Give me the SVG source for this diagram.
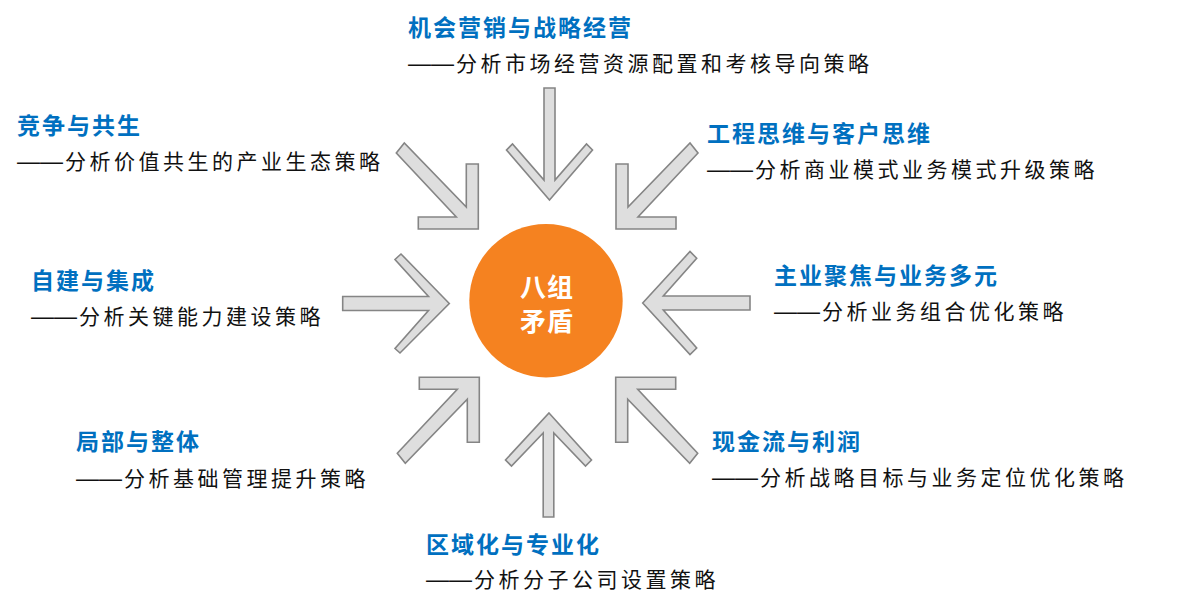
<svg xmlns="http://www.w3.org/2000/svg" width="1189" height="610" viewBox="0 0 1189 610">
  <style>
    .arrow { fill: #DEDEDE; stroke: #858585; stroke-width: 1.6; stroke-linejoin: miter; }
    .title { font-family: "Noto Sans CJK SC", "Noto Sans", sans-serif; font-size: 23px; font-weight: bold; fill: #0070C0; letter-spacing: 2px; }
    .sub { font-family: "Noto Sans CJK SC", "Noto Sans", sans-serif; font-size: 21px; fill: #111111; letter-spacing: 3.5px; }
    .dash { font-family: "Liberation Sans", "Noto Sans CJK SC", sans-serif; font-size: 23px; letter-spacing: 0; }
    .center { font-family: "Noto Sans CJK SC", "Noto Sans", sans-serif; font-size: 26px; font-weight: bold; fill: #FFFFFF; text-anchor: middle; letter-spacing: 1px; }
  </style>
  <rect width="1189" height="610" fill="#FFFFFF"/>

  <g id="connectors">
    <!-- top, pointing down -->
    <polygon class="arrow" points="549.5,200 592.5,150 586.5,144 555,180 555,88 544,88 544,180 512.5,144 506.5,150"/>
    <!-- bottom, pointing up -->
    <polygon class="arrow" points="549,413 591.5,460 585.5,466 553.8,433 553.8,517 543.2,517 543.2,433 511.5,466 505.5,460"/>
    <!-- left, pointing right -->
    <polygon class="arrow" points="449.3,303.5 401,254 395,259.5 428.5,296.5 342.7,296.5 342.7,310.5 428.5,310.5 395,348.5 400,353"/>
    <!-- right, pointing left -->
    <polygon class="arrow" points="642.7,303 690,251.5 696.7,258.3 663.3,296 750,296 750,310 663.3,310 696.7,348 690,354.5"/>
    <!-- upper-left, pointing down-right -->
    <polygon class="arrow" points="478.3,229 478.3,164 466.3,164 466.3,207 404.3,143 396.3,153 456.3,217 418.3,217 418.3,229"/>
    <!-- upper-right, pointing down-left -->
    <polygon class="arrow" points="616,229 616,164 628,164 628,207 690,143 698,153 638,217 676,217 676,229"/>
    <!-- lower-left, pointing up-right -->
    <polygon class="arrow" points="479.3,377.3 479.3,442.3 467.3,442.3 467.3,399.3 405.3,463.3 397.3,453.3 457.3,389.3 419.3,389.3 419.3,377.3"/>
    <!-- lower-right, pointing up-left -->
    <polygon class="arrow" points="615.7,377.3 615.7,442.3 627.7,442.3 627.7,399.3 689.7,463.3 697.7,453.3 637.7,389.3 675.7,389.3 675.7,377.3"/>
  </g>

  <g id="node-center">
    <circle cx="546" cy="300.7" r="76.7" fill="#F58220"/>
    <text class="center" x="547" y="297">八组</text>
    <text class="center" x="547" y="331">矛盾</text>
  </g>

  <g id="node-top">
    <text class="title" x="408" y="35.5">机会营销与战略经营</text>
    <text class="sub" x="408" y="70.5"><tspan class="dash">——</tspan><tspan dx="2">分析市场经营资源配置和考核导向策略</tspan></text>
  </g>
  <g id="node-upper-left">
    <text class="title" x="17" y="134">竞争与共生</text>
    <text class="sub" x="17" y="169"><tspan class="dash">——</tspan><tspan dx="2">分析价值共生的产业生态策略</tspan></text>
  </g>
  <g id="node-upper-right">
    <text class="title" x="707" y="142">工程思维与客户思维</text>
    <text class="sub" x="707" y="177"><tspan class="dash">——</tspan><tspan dx="2">分析商业模式业务模式升级策略</tspan></text>
  </g>
  <g id="node-left">
    <text class="title" x="31" y="289">自建与集成</text>
    <text class="sub" x="31" y="324"><tspan class="dash">——</tspan><tspan dx="2">分析关键能力建设策略</tspan></text>
  </g>
  <g id="node-right">
    <text class="title" x="774" y="284">主业聚焦与业务多元</text>
    <text class="sub" x="774" y="319"><tspan class="dash">——</tspan><tspan dx="2">分析业务组合优化策略</tspan></text>
  </g>
  <g id="node-lower-left">
    <text class="title" x="76" y="450">局部与整体</text>
    <text class="sub" x="76" y="486"><tspan class="dash">——</tspan><tspan dx="2">分析基础管理提升策略</tspan></text>
  </g>
  <g id="node-lower-right">
    <text class="title" x="712" y="450">现金流与利润</text>
    <text class="sub" x="712" y="485"><tspan class="dash">——</tspan><tspan dx="2">分析战略目标与业务定位优化策略</tspan></text>
  </g>
  <g id="node-bottom">
    <text class="title" x="426" y="553">区域化与专业化</text>
    <text class="sub" x="426" y="587"><tspan class="dash">——</tspan><tspan dx="2">分析分子公司设置策略</tspan></text>
  </g>
</svg>
